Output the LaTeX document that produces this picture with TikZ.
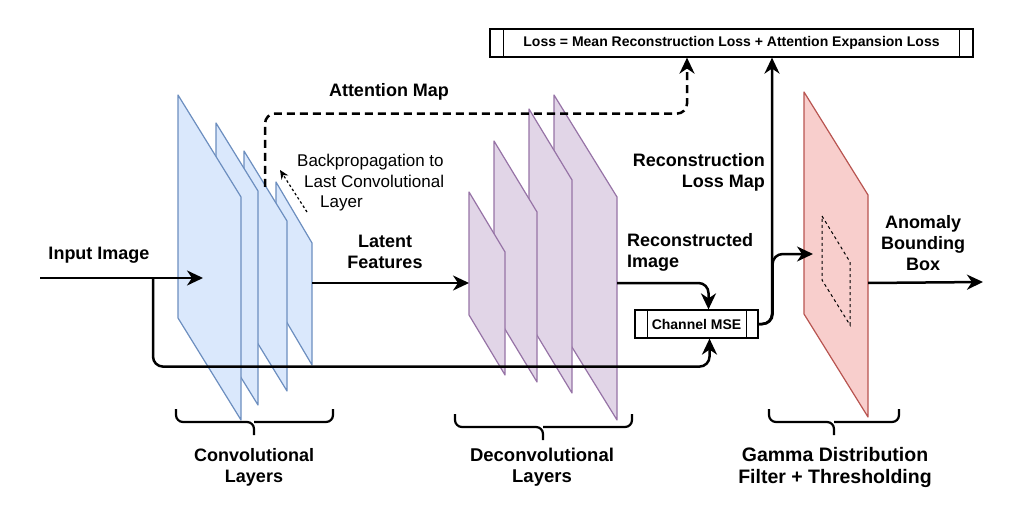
\documentclass[tikz,border=0pt]{standalone}
\usepackage{fontspec}
\setmainfont{Liberation Sans}
\usetikzlibrary{arrows.meta}

\definecolor{convfill}{HTML}{DAE8FC}
\definecolor{convline}{HTML}{6C8EBF}
\definecolor{deconvfill}{HTML}{E1D5E7}
\definecolor{deconvline}{HTML}{9673A6}
\definecolor{gammafill}{HTML}{F8CECC}
\definecolor{gammaline}{HTML}{B85450}

\tikzset{
  lbl/.style={font=\bfseries\fontsize{18}{21}\selectfont, align=center, inner sep=0pt},
  smalllbl/.style={font=\bfseries\fontsize{14}{16}\selectfont, inner sep=0pt},
  proc/.style={draw, line width=1.2pt, smalllbl},
  arr/.style={line width=2.5pt, -{Stealth[length=16pt,width=15pt,inset=5pt]}},
  dasharr/.style={arr, dash pattern=on 8pt off 5pt},
  brc/.style={line width=2.2pt, rounded corners=7pt},
  convplane/.style={draw=convline, fill=convfill, line width=1.2pt, line join=round},
  deconvplane/.style={draw=deconvline, fill=deconvfill, line width=1.2pt, line join=round},
  gammaplane/.style={draw=gammaline, fill=gammafill, line width=1.2pt, line join=round}
}

\begin{document}
\begin{tikzpicture}[x=1pt, y=-1pt]
        \useasboundingbox (0,0) rectangle (1024,521);

        % Convolutional layers (back to front)
        \foreach \x/\t/\w/\d/\h in {276/182/36/61/122, 244/151/43/70/170, 216/123/42/68/214, 178/95/63/102/223}
          \draw[convplane] (\x,\t) -- ++(\w,\d) -- ++(0,\h) -- ++(-\w,-\d) -- cycle;

        % Deconvolutional layers (back to front)
        \foreach \x/\t/\w/\d/\h in {554/95/63/102/223, 529/109/43/71/213, 494/141/43/71/170, 469/192/36/60/123}
          \draw[deconvplane] (\x,\t) -- ++(\w,\d) -- ++(0,\h) -- ++(-\w,-\d) -- cycle;

        % Gamma filter plane with bounding box
        \draw[gammaplane] (804,92) -- ++(64,103) -- ++(0,222) -- ++(-64,-103) -- cycle;
        \draw[dashed, line width=1pt] (822,216) -- (850,262) -- (850,325) -- (822,280) -- cycle;

        % Points on the planes
        \coordinate (split) at (153,278);
        \coordinate (in) at (40,278);
        \coordinate (convin) at (203,278);
        \coordinate (convout) at (312,283);
        \coordinate (deconvin) at (469,283);
        \coordinate (recout) at (617,283);
        \coordinate (gammain) at (813,254);
        \coordinate (gammaout) at (868,283);
        \coordinate (out) at (983,282);
        \coordinate (attn) at (265,187);
        \coordinate (bpfrom) at (307,212);
        \coordinate (bpto) at (280,170);

        % Boxes
        \node[proc, minimum width=483pt, minimum height=28pt] (loss) at (731.5,43) {Loss = Mean Reconstruction Loss + Attention Expansion Loss};
        \draw[line width=1.2pt] ([xshift=14pt]loss.north west) -- ([xshift=14pt]loss.south west);
        \draw[line width=1.2pt] ([xshift=-14pt]loss.north east) -- ([xshift=-14pt]loss.south east);

        \node[proc, minimum width=123pt, minimum height=28pt] (mse) at (696.5,324) {Channel MSE};
        \draw[line width=1.2pt] ([xshift=13pt]mse.north west) -- ([xshift=13pt]mse.south west);
        \draw[line width=1.2pt] ([xshift=-12pt]mse.north east) -- ([xshift=-12pt]mse.south east);

        % Connectors
        \draw[arr] (in) -- (convin);
        \draw[arr, rounded corners=10pt] (split) |- ([xshift=13pt,yshift=-28pt]mse.south) -- ([xshift=13pt]mse.south);
        \draw[arr] (convout) -- (deconvin);
        \draw[arr, rounded corners=10pt] (recout) -| ([xshift=12pt]mse.north);
        \draw[arr, rounded corners=10pt] (mse.east) -- ++(14,0) |- (gammain);
        \draw[arr, rounded corners=10pt] (mse.east) -| ([xshift=40.5pt]loss.south);
        \draw[arr] (gammaout) -- (out);
        \draw[dasharr, rounded corners=10pt] (attn) |- ([xshift=-44.5pt,yshift=-56pt]loss.south) -- ([xshift=-44.5pt]loss.south);
        \draw[line width=1.2pt, dash pattern=on 2.5pt off 2.5pt, -{Stealth[length=9pt,width=8pt]}] (bpfrom) -- (bpto);

        % Labels
        \node[lbl] (inlbl) at (99,255) {Input Image};
        \node[lbl] (attnlbl) at (389,92) {Attention Map};
        \node[lbl] (latlbl) at (385,252) {Latent\\Features};
        \node[lbl, anchor=west, align=left] (reclbl) at (627,252) {Reconstructed\\Image};
        \node[lbl, anchor=east, align=right] (losslbl) at (765,172) {Reconstruction\\Loss Map};
        \node[lbl] (boxlbl) at (923,243) {Anomaly\\Bounding\\Box};
        \node[font=\fontsize{17}{20.5}\selectfont, align=left, inner sep=0pt, anchor=west] (bplbl) at (297,183) {Backpropagation to\\\hspace{7pt}Last Convolutional\\\hspace{23pt}Layer};

        % Braces
        \draw[brc] (176,409) |- (254,422) -- (254,435);
        \draw[brc] (333,409) |- (254,422);
        \draw[brc] (455,414) |- (543,427) -- (543,440);
        \draw[brc] (632,414) |- (543,427);
        \draw[brc] (769,409) |- (834,422) -- (834,435);
        \draw[brc] (899,409) |- (834,422);

        \node[lbl] (convlbl) at (254,467) {Convolutional\\Layers};
        \node[lbl, font=\bfseries\fontsize{18.5}{21.5}\selectfont] (deconvlbl) at (542,467) {Deconvolutional\\Layers};
        \node[lbl, font=\bfseries\fontsize{19.5}{22}\selectfont] (gammalbl) at (835,467) {Gamma Distribution\\Filter + Thresholding};

      \end{tikzpicture}
\end{document}
